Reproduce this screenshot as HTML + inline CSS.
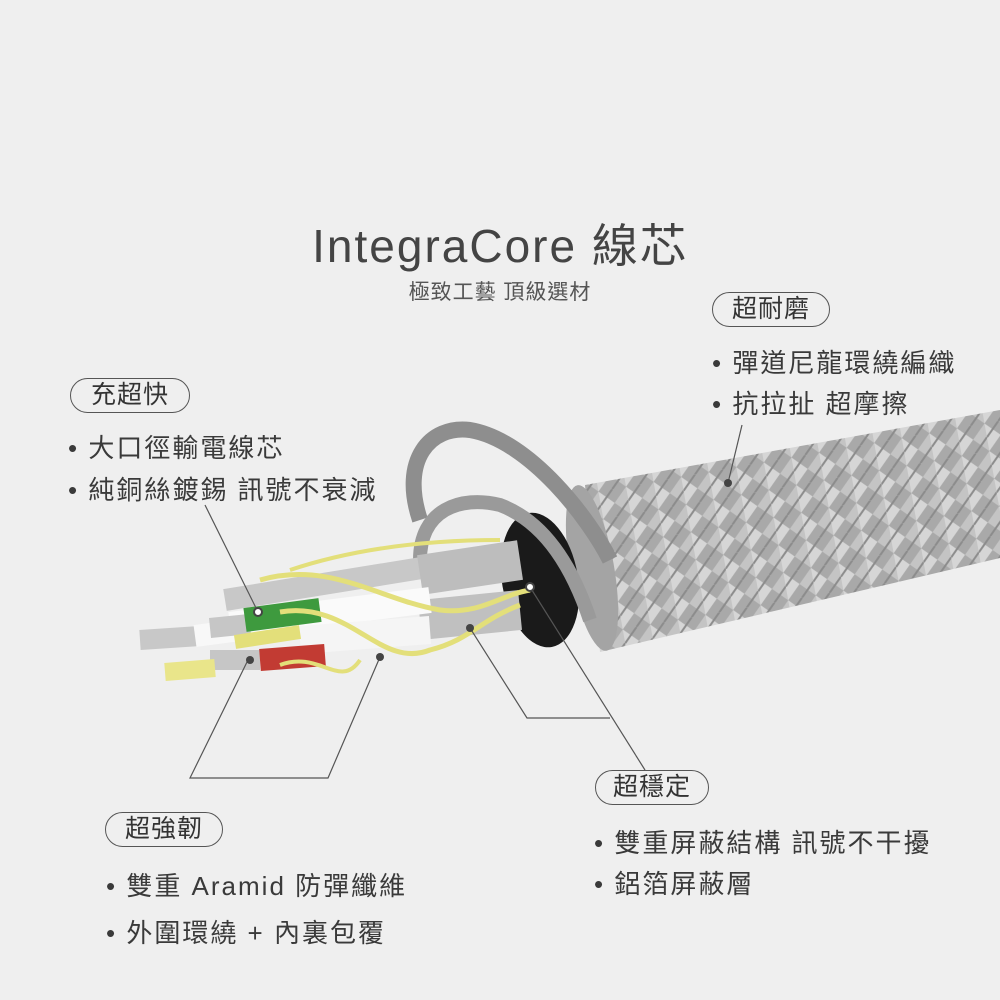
<!DOCTYPE html>
<html><head><meta charset="utf-8"><style>
html,body{margin:0;padding:0;width:1000px;height:1000px;background:#efefef;overflow:hidden}
.t{position:absolute;font-family:"Liberation Sans","Noto Sans CJK TC",sans-serif;color:#3a3a3a;white-space:nowrap}
.pill{position:absolute;border:1.5px solid #555;border-radius:18px;font-family:"Liberation Sans","Noto Sans CJK TC",sans-serif;font-size:25px;letter-spacing:1px;color:#333;text-align:center;line-height:33px;height:33px;box-sizing:content-box}
.b{font-size:26px;letter-spacing:2px}
</style></head><body>
<svg width="1000" height="1000" style="position:absolute;left:0;top:0">
<defs>
<pattern id="br" width="28" height="28" patternUnits="userSpaceOnUse" patternTransform="rotate(-10)">
<rect width="28" height="28" fill="#a9a9a9"/>
<path d="M0 0 L14 14 L0 28Z" fill="#d6d6d6"/>
<path d="M28 0 L14 14 L28 28Z" fill="#c4c4c4"/>
<path d="M0 14 L14 0 M14 28 L28 14" stroke="#8c8c8c" stroke-width="2"/>
</pattern>
</defs>
<polygon points="585,485 1000,410 1000,558 600,652" fill="url(#br)"/>
<ellipse cx="592" cy="568" rx="22" ry="84" fill="#a4a4a4" transform="rotate(-10 592 568)"/>
<ellipse cx="540" cy="580" rx="38" ry="68" fill="#1a1a1a" transform="rotate(-10 540 580)"/>
<path d="M420 520 C400 460 430 425 470 430 C530 440 590 520 610 560" fill="none" stroke="#8e8e8e" stroke-width="16"/>
<path d="M420 560 C420 510 460 495 500 505 C540 520 570 560 590 620" fill="none" stroke="#9a9a9a" stroke-width="14"/>
<g stroke-linecap="butt">
<line x1="225" y1="600" x2="440" y2="565" stroke="#c8c8c8" stroke-width="22"/>
<line x1="420" y1="575" x2="520" y2="560" stroke="#bdbdbd" stroke-width="40"/>
<line x1="420" y1="620" x2="520" y2="610" stroke="#c0c0c0" stroke-width="40"/>
<line x1="230" y1="625" x2="430" y2="600" stroke="#fafafa" stroke-width="26"/>
<line x1="300" y1="640" x2="430" y2="630" stroke="#f5f5f5" stroke-width="28"/>
<line x1="140" y1="640" x2="200" y2="636" stroke="#c8c8c8" stroke-width="20"/>
<line x1="195" y1="636" x2="240" y2="630" stroke="#f8f8f8" stroke-width="22"/>
<line x1="210" y1="628" x2="250" y2="624" stroke="#c6c6c6" stroke-width="20"/>
<line x1="245" y1="620" x2="320" y2="610" stroke="#3e9a3e" stroke-width="24"/>
<line x1="210" y1="660" x2="260" y2="660" stroke="#c6c6c6" stroke-width="20"/>
<line x1="260" y1="660" x2="325" y2="655" stroke="#c23b33" stroke-width="22"/>
<line x1="165" y1="672" x2="215" y2="668" stroke="#e9e58a" stroke-width="18"/>
<line x1="235" y1="642" x2="300" y2="632" stroke="#e3df7a" stroke-width="14"/>
</g>
<path d="M280 612 C350 600 380 670 430 650 C470 640 480 620 520 605" fill="none" stroke="#e3df7a" stroke-width="5"/>
<path d="M260 580 C330 560 380 600 440 610 C480 615 500 595 530 590" fill="none" stroke="#e3df7a" stroke-width="5"/>
<path d="M290 570 C350 550 420 540 500 540" fill="none" stroke="#e3df7a" stroke-width="4"/>
<path d="M280 665 C320 650 340 690 360 660" fill="none" stroke="#e3df7a" stroke-width="4"/>
<g stroke="#555" stroke-width="1.2" fill="none">
<line x1="205" y1="505" x2="258" y2="612"/>
<polyline points="248,660 190,778 328,778 380,657"/>
<polyline points="470,628 527,718 610,718"/>
<line x1="530" y1="587" x2="645" y2="770"/>
<line x1="728" y1="483" x2="742" y2="425"/>
</g>
<g fill="#fff" stroke="#444" stroke-width="2">
<circle cx="258" cy="612" r="4"/><circle cx="530" cy="587" r="4"/>
</g>
<g fill="#444"><circle cx="250" cy="660" r="4"/><circle cx="380" cy="657" r="4"/><circle cx="470" cy="628" r="4"/><circle cx="728" cy="483" r="4"/></g>
</svg>
<div class="t" style="left:0;width:1000px;text-align:center;top:210px;font-size:46px;letter-spacing:2px;color:#444">IntegraCore 線芯</div>
<div class="t" style="left:0;width:1000px;text-align:center;top:276px;font-size:21px;letter-spacing:1px;color:#555">極致工藝 頂級選材</div>
<div class="pill" style="left:712px;top:292px;width:116px">超耐磨</div>
<div class="t b" style="left:712px;top:343px">• 彈道尼龍環繞編織</div>
<div class="t b" style="left:712px;top:384px">• 抗拉扯 超摩擦</div>
<div class="pill" style="left:70px;top:378px;width:118px">充超快</div>
<div class="t b" style="left:68px;top:428px">• 大口徑輸電線芯</div>
<div class="t b" style="left:68px;top:470px">• 純銅絲鍍錫 訊號不衰減</div>
<div class="pill" style="left:595px;top:770px;width:112px">超穩定</div>
<div class="t b" style="left:594px;top:823px">• 雙重屏蔽結構 訊號不干擾</div>
<div class="t b" style="left:594px;top:864px">• 鋁箔屏蔽層</div>
<div class="pill" style="left:105px;top:812px;width:116px">超強韌</div>
<div class="t b" style="left:106px;top:866px">• 雙重 Aramid 防彈纖維</div>
<div class="t b" style="left:106px;top:913px">• 外圍環繞 + 內裏包覆</div>
</body></html>
